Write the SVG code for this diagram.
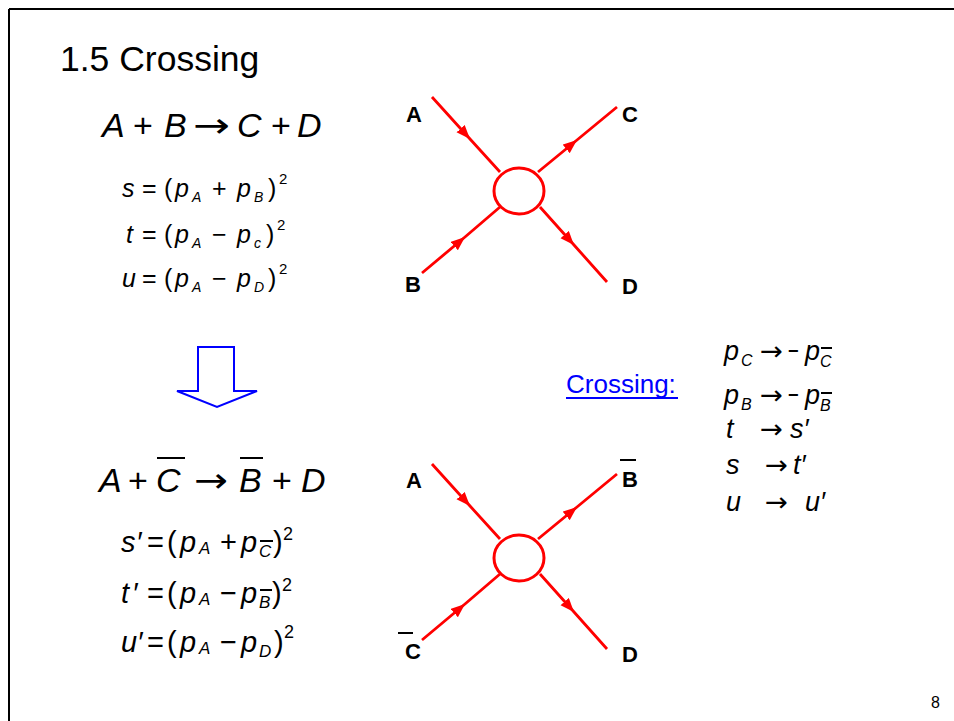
<svg xmlns="http://www.w3.org/2000/svg" width="954" height="721" viewBox="0 0 954 721">
<style>
text{font-family:"Liberation Sans",Arial,"DejaVu Sans",sans-serif;fill:#000}
.i{font-style:italic}
.ar{font-family:"DejaVu Sans",sans-serif}
.eq{font-size:34px}
.m{font-size:25px}
.m2{font-size:29px}
.m3{font-size:27px}
.sub{font-size:14px;font-style:italic}
.sup{font-size:15px}
.sub2{font-size:17px;font-style:italic}
.sup2{font-size:18px}
.sub3{font-size:16px;font-style:italic}
.lbl{font-size:22px;font-weight:bold}
.bar{stroke:#000;stroke-width:2}
.ln{fill:none;stroke:#ff0000;stroke-width:2.8;marker-mid:url(#ah)}
.vx{fill:#fff;stroke:#ff0000;stroke-width:3}
</style>
<defs>
<marker id="ah" markerUnits="userSpaceOnUse" markerWidth="16" markerHeight="12" refX="14" refY="5.5" orient="auto">
<path d="M0,0 L14,5.5 L0,11 Z" fill="#ff0000"/>
</marker>
</defs>
<rect width="954" height="721" fill="#fff"/>
<g id="frame">
<line x1="9" y1="9" x2="954" y2="9" stroke="#000" stroke-width="2"/>
<line x1="9" y1="9" x2="9" y2="721" stroke="#000" stroke-width="2"/>
</g>
<text id="title" x="60" y="71" font-size="35.5">1.5 Crossing</text>
<text id="page" x="931" y="708" font-size="16">8</text>

<g id="eq-top">
<text class="eq" y="137"><tspan class="i" x="102">A</tspan><tspan x="133">+</tspan><tspan class="i" x="164">B</tspan><tspan class="i" x="237">C</tspan><tspan x="271">+</tspan><tspan class="i" x="297">D</tspan></text>
<text class="ar" x="193" y="137" font-size="34" textLength="37" lengthAdjust="spacingAndGlyphs">→</text>
<text class="m" y="197"><tspan class="i" x="122">s</tspan><tspan x="142">=</tspan><tspan x="164">(</tspan><tspan class="i" x="175">p</tspan><tspan x="212">+</tspan><tspan class="i" x="237">p</tspan><tspan x="268">)</tspan></text>
<text class="sub" x="192" y="202">A</text><text class="sub" x="254" y="202">B</text><text class="sup" x="279" y="184">2</text>
<text class="m" y="243"><tspan class="i" x="126">t</tspan><tspan x="142">=</tspan><tspan x="164">(</tspan><tspan class="i" x="175">p</tspan><tspan x="212">−</tspan><tspan class="i" x="237">p</tspan><tspan x="266">)</tspan></text>
<text class="sub" x="192" y="248">A</text><text class="sub" x="254" y="248">c</text><text class="sup" x="277" y="230">2</text>
<text class="m" y="287"><tspan class="i" x="122">u</tspan><tspan x="142">=</tspan><tspan x="164">(</tspan><tspan class="i" x="175">p</tspan><tspan x="212">−</tspan><tspan class="i" x="237">p</tspan><tspan x="268">)</tspan></text>
<text class="sub" x="192" y="292">A</text><text class="sub" x="254" y="292">D</text><text class="sup" x="279" y="274">2</text>
</g>

<g id="down-arrow">
<polygon points="198,347 234,347 234,391 257,391 217,407 177,391 198,391" fill="#fff" stroke="#0000ff" stroke-width="2"/>
</g>

<g id="eq-bottom">
<text class="eq" y="492"><tspan class="i" x="99">A</tspan><tspan x="128">+</tspan><tspan class="i" x="156">C</tspan><tspan class="i" x="239">B</tspan><tspan x="272">+</tspan><tspan class="i" x="301">D</tspan></text>
<text class="ar" x="194" y="492" font-size="34" textLength="34" lengthAdjust="spacingAndGlyphs">→</text>
<line class="bar" x1="157" y1="458" x2="185" y2="458"/>
<line class="bar" x1="240" y1="458" x2="263" y2="458"/>
<text class="m2" y="552"><tspan class="i" x="121">s</tspan><tspan class="i" x="136">′</tspan><tspan x="147">=</tspan><tspan x="167">(</tspan><tspan class="i" x="180">p</tspan><tspan x="220">+</tspan><tspan class="i" x="241">p</tspan><tspan x="273">)</tspan></text>
<text class="sub2" x="199" y="554">A</text><text class="sub2" x="259" y="557">C</text><line class="bar" x1="260" y1="541" x2="273" y2="541" stroke-width="1.5"/><text class="sup2" x="283" y="540">2</text>
<text class="m2" y="603"><tspan class="i" x="121">t</tspan><tspan class="i" x="132">′</tspan><tspan x="147">=</tspan><tspan x="167">(</tspan><tspan class="i" x="180">p</tspan><tspan x="220">−</tspan><tspan class="i" x="241">p</tspan><tspan x="272">)</tspan></text>
<text class="sub2" x="199" y="605">A</text><text class="sub2" x="259" y="608">B</text><line class="bar" x1="260" y1="590" x2="272" y2="590" stroke-width="1.5"/><text class="sup2" x="282" y="591">2</text>
<text class="m2" y="652"><tspan class="i" x="121">u</tspan><tspan class="i" x="137">′</tspan><tspan x="147">=</tspan><tspan x="167">(</tspan><tspan class="i" x="180">p</tspan><tspan x="220">−</tspan><tspan class="i" x="241">p</tspan><tspan x="274">)</tspan></text>
<text class="sub2" x="199" y="654">A</text><text class="sub2" x="259" y="657">D</text><text class="sup2" x="284" y="638">2</text>
</g>

<g id="crossing-label">
<text x="566" y="393" font-size="26" style="fill:#0000ff">Crossing:</text>
<line x1="566" y1="398" x2="678" y2="398" stroke="#0000ff" stroke-width="2"/>
</g>

<g id="crossing-rules">
<text class="m3" y="360"><tspan class="i" x="724">p</tspan><tspan class="i" x="805">p</tspan></text>
<text x="788" y="360" font-size="27" textLength="11" lengthAdjust="spacingAndGlyphs">−</text>
<text class="ar" x="760" y="360" font-size="26" textLength="23" lengthAdjust="spacingAndGlyphs">→</text>
<text class="sub3" x="741" y="366">C</text><text class="sub3" x="820" y="367">C</text><line class="bar" x1="821" y1="348" x2="832" y2="348" stroke-width="1.5"/>
<text class="m3" y="404"><tspan class="i" x="724">p</tspan><tspan class="i" x="805">p</tspan></text>
<text x="788" y="404" font-size="27" textLength="11" lengthAdjust="spacingAndGlyphs">−</text>
<text class="ar" x="760" y="404" font-size="26" textLength="23" lengthAdjust="spacingAndGlyphs">→</text>
<text class="sub3" x="741" y="410">B</text><text class="sub3" x="820" y="411">B</text><line class="bar" x1="821" y1="393" x2="832" y2="393" stroke-width="1.5"/>
<text class="m3" y="438"><tspan class="i" x="726">t</tspan><tspan class="i" x="790">s′</tspan></text>
<text class="ar" x="760" y="438" font-size="26" textLength="23" lengthAdjust="spacingAndGlyphs">→</text>
<text class="m3" y="474"><tspan class="i" x="726">s</tspan><tspan class="i" x="793">t′</tspan></text>
<text class="ar" x="765" y="474" font-size="26" textLength="23" lengthAdjust="spacingAndGlyphs">→</text>
<text class="m3" y="511"><tspan class="i" x="726">u</tspan><tspan class="i" x="805">u′</tspan></text>
<text class="ar" x="765" y="511" font-size="26" textLength="23" lengthAdjust="spacingAndGlyphs">→</text>
</g>

<g id="connectors">
<polyline class="ln" points="432,97 470,139 500,172"/>
<polyline class="ln" points="538,172 577,140 617,107"/>
<polyline class="ln" points="422,273 465,237 500,207"/>
<polyline class="ln" points="540,207 574,245 607,282"/>
<g transform="translate(0,367)">
<polyline class="ln" points="432,97 470,139 500,172"/>
<polyline class="ln" points="538,172 577,140 617,107"/>
<polyline class="ln" points="422,273 465,237 500,207"/>
<polyline class="ln" points="540,207 574,245 607,282"/>
</g>
</g>

<g id="vertex-1"><ellipse class="vx" cx="519" cy="191" rx="25" ry="23"/></g>
<g id="vertex-2"><ellipse class="vx" cx="519" cy="558" rx="25" ry="23"/></g>

<g id="node-A1"><text class="lbl" x="406" y="122">A</text></g>
<g id="node-C1"><text class="lbl" x="622" y="122">C</text></g>
<g id="node-B1"><text class="lbl" x="405" y="292">B</text></g>
<g id="node-D1"><text class="lbl" x="622" y="294">D</text></g>

<g id="node-A2"><text class="lbl" x="406" y="488">A</text></g>
<g id="node-Bbar2"><text class="lbl" x="622" y="487">B</text><line class="bar" x1="620" y1="460" x2="636" y2="460" stroke-width="2.5"/></g>
<g id="node-Cbar2"><text class="lbl" x="405" y="659">C</text><line class="bar" x1="398" y1="633" x2="413" y2="633" stroke-width="2.5"/></g>
<g id="node-D2"><text class="lbl" x="622" y="662">D</text></g>
</svg>
